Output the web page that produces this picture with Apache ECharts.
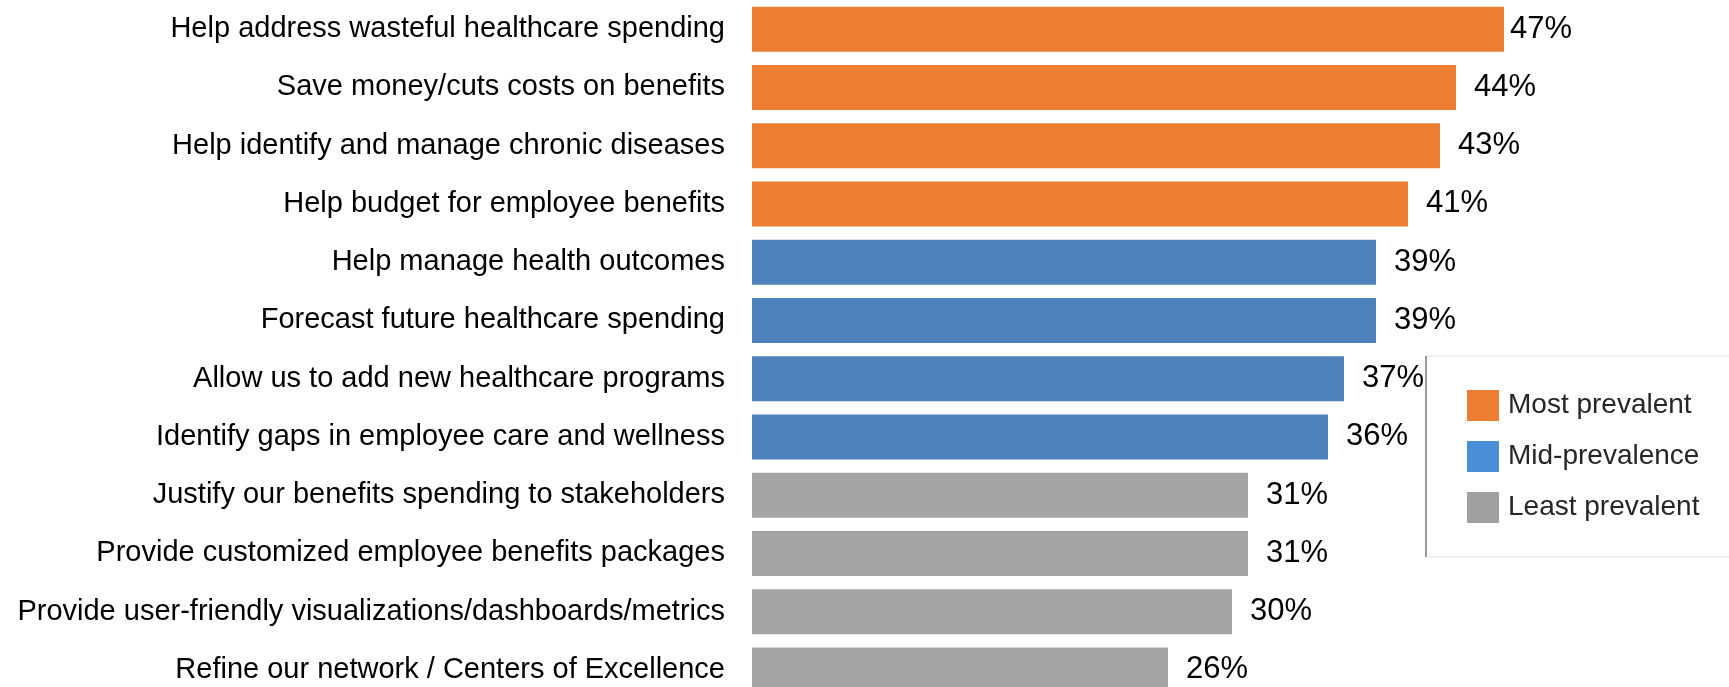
<!DOCTYPE html>
<html>
<head>
<meta charset="utf-8">
<script src="https://cdn.jsdelivr.net/npm/echarts@6/dist/echarts.min.js"></script>
<style>
html,body{margin:0;padding:0;background:#fff;}
#chart{width:1729px;height:687px;}
</style>
</head>
<body>
<div id="chart"></div>
<script>
const categories = [
  "Help address wasteful healthcare spending",
  "Save money/cuts costs on benefits",
  "Help identify and manage chronic diseases",
  "Help budget for employee benefits",
  "Help manage health outcomes",
  "Forecast future healthcare spending",
  "Allow us to add new healthcare programs",
  "Identify gaps in employee care and wellness",
  "Justify our benefits spending to stakeholders",
  "Provide customized employee benefits packages",
  "Provide user-friendly visualizations/dashboards/metrics",
  "Refine our network / Centers of Excellence"
];
const values = [47, 44, 43, 41, 39, 39, 37, 36, 31, 31, 30, 26];
const groups = [0, 0, 0, 0, 1, 1, 1, 1, 2, 2, 2, 2];
const groupNames = ["Most prevalent", "Mid-prevalence", "Least prevalent"];
const groupColors = ["#ED7D31", "#4F81BD", "#A5A5A5"];
const legendColors = ["#ED7D31", "#4A90D9", "#A0A0A0"];

const FONT = "'Liberation Sans', Arial, sans-serif";
const chart = echarts.init(document.getElementById('chart'));

const series = groupNames.map((name, g) => ({
  name: name,
  type: 'bar',
  stack: 'all',
  barWidth: 45,
  itemStyle: { color: groupColors[g] },
  data: values.map((v, i) => {
    if (groups[i] !== g) return null;
    const item = { value: v };
    if (i === 0) item.label = { distance: 6 };
    return item;
  }),
  label: {
    show: true,
    position: 'right',
    distance: 18,
    formatter: '{c}%',
    fontSize: 31,
    fontFamily: FONT,
    color: '#000'
  },
  emphasis: { disabled: true }
}));

chart.setOption({
  animation: false,
  backgroundColor: '#fff',
  grid: { left: 752, top: 0, width: 960, height: 699, containLabel: false, outerBoundsMode: 'none' },
  xAxis: {
    type: 'value', min: 0, max: 60, show: false,
    splitLine: { show: false }
  },
  yAxis: {
    type: 'category',
    data: categories,
    inverse: true,
    axisLine: { show: false },
    axisTick: { show: false },
    axisLabel: {
      margin: 27,
      fontSize: 29,
      fontFamily: FONT,
      color: '#000'
    }
  },
  legend: {
    orient: 'vertical',
    left: 1467,
    top: 390,
    padding: 0,
    itemWidth: 32,
    itemHeight: 31,
    itemGap: 20,
    icon: 'rect',
    selectedMode: false,
    textStyle: { fontSize: 28, fontFamily: FONT, color: '#262626', padding: [0, 0, 0, 4] },
    data: groupNames.map((n, g) => ({ name: n, itemStyle: { color: legendColors[g] } }))
  },
  graphic: [
    {
      type: 'rect', z: -1,
      shape: { x: 1426, y: 356, width: 310, height: 201 },
      style: { fill: '#fff', stroke: '#e0e0e0', lineWidth: 1 }
    },
    {
      type: 'line',
      shape: { x1: 1426, y1: 356, x2: 1426, y2: 557 },
      style: { stroke: '#9a9a9a', lineWidth: 2 }
    }
  ],
  series: series
});
</script>
</body>
</html>
